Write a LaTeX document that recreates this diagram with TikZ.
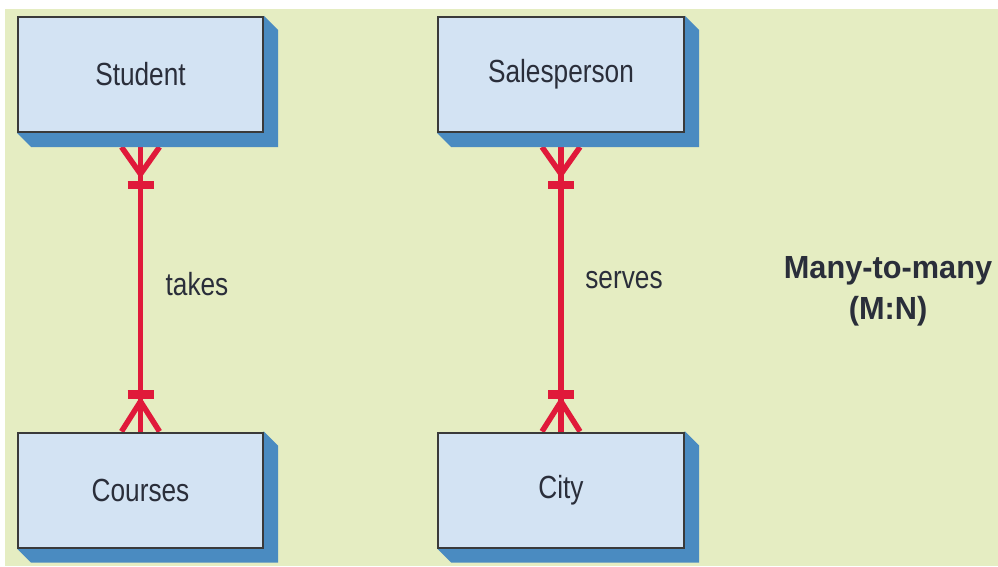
\documentclass[tikz,border=0pt]{standalone}
\usepackage{fontspec}
\setmainfont{Liberation Sans}[FakeStretch=0.82]
\newfontfamily\bldf{Liberation Sans}[FakeStretch=0.96]
\usetikzlibrary{backgrounds,calc}
\definecolor{bg}{HTML}{E5EDC2}
\definecolor{boxfill}{HTML}{D3E3F3}
\definecolor{shadowc}{HTML}{4A8BC1}
\definecolor{edgec}{HTML}{3A3A3A}
\definecolor{relred}{HTML}{E0193A}
\definecolor{txt}{HTML}{2A2E3A}
\begin{document}
\begin{tikzpicture}[x=1pt,y=-1pt,
  entity/.style={draw=edgec,line width=2pt,fill=boxfill,minimum width=245pt,minimum height=115pt,inner sep=0pt,font=\fontsize{32}{38}\selectfont,text=txt},
  rel/.style={draw=relred,line width=5.5pt},
  bar/.style={draw=relred,line width=8.5pt},
  lbl/.style={font=\fontsize{32}{38}\selectfont,text=txt,inner sep=0pt},
  shadowfill/.style={fill=shadowc}
]
\useasboundingbox (0,0) rectangle (998,567);

\node[entity] (student) at (140.5,74.5) {Student};
\node[entity] (courses) at (140.5,490) {Courses};
\node[entity,minimum width=246pt] (sales) at (561,74.5) {Salesperson};
\node[entity,minimum width=246pt] (city) at (561,490) {City};

\node[lbl] (takes) at (197,284) {takes};
\node[lbl] (serves) at (624,280) {serves};
\node[lbl,font=\bldf\bfseries\fontsize{32}{41}\selectfont,align=center] (mn) at (888,291) {Many-to-many\\(M:N)};

\begin{scope}[on background layer]
  \fill[bg] (5,9) rectangle (998,566);
  % connectors
  \foreach \a/\b in {student/courses,sales/city}{
    \coordinate (top) at ($(\a.south)+(0,14)$);
    \draw[rel] (top) -- (\b.north);
    \draw[rel,line join=round] ($(top)+(-19,0)$) -- ($(top)+(0,27)$) -- ($(top)+(19,0)$);
    \draw[bar] ($(top)+(-13,38)$) -- ($(top)+(13,38)$);
    \draw[rel,line join=round] ($(\b.north)+(-19,0)$) -- ($(\b.north)+(0,-30)$) -- ($(\b.north)+(19,0)$);
    \draw[bar] ($(\b.north)+(-13,-37)$) -- ($(\b.north)+(13,-37)$);
  }
  % 3D shadows
  \foreach \n in {student,courses,sales,city}{
    \fill[shadowfill] (\n.north east) -- ($(\n.north east)+(14,14)$) -- ($(\n.south east)+(14,14)$) -- ($(\n.south west)+(14,14)$) -- (\n.south west) -- cycle;
  }
\end{scope}
\end{tikzpicture}
\end{document}
